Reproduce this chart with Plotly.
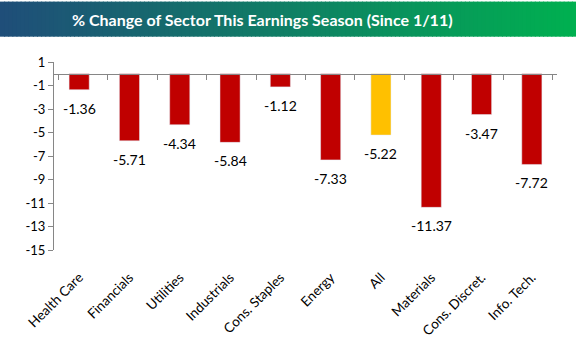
import plotly.graph_objects as go

sectors = ["Health Care", "Financials", "Utilities", "Industrials", "Cons. Staples",
           "Energy", "All", "Materials", "Cons. Discret.", "Info. Tech."]
changes = [-1.36, -5.71, -4.34, -5.84, -1.12, -7.33, -5.22, -11.37, -3.47, -7.72]
title_text = "% Change of Sector This Earnings Season (Since 1/11)"
y_ticks = [1, -1, -3, -5, -7, -9, -11, -13, -15]

RED = "#C00000"
GOLD = "#FFC000"
colors = [GOLD if s == "All" else RED for s in sectors]
FONT = "Lato, 'Open Sans', sans-serif"
AXIS = "#868686"

W, H = 576, 351
ml, mr, mt, mb = 54, 19, 62, 96
pw, ph = W - ml - mr, H - mt - mb

fig = go.Figure()
fig.add_trace(go.Bar(
    x=sectors, y=changes, marker_color=colors, width=0.4,
    hoverinfo="skip", showlegend=False,
))
# helper (invisible) trace so that the zero-line category axis is drawn
fig.add_trace(go.Scatter(
    x=sectors, y=changes, xaxis="x2", mode="markers",
    marker=dict(opacity=0), hoverinfo="skip", showlegend=False,
))

ymin, ymax = -15, 1
zero_pos = (0 - ymin) / (ymax - ymin)

# gradient title bar built from thin strips
c0 = (31, 78, 121)
c1 = (0, 176, 80)
n = 140
bar_top_px, bar_bot_px = 0, 36
x_left = -ml / pw
x_right = (W - ml) / pw
y_top = 1 + (mt - bar_top_px) / ph
y_bot = 1 + (mt - bar_bot_px) / ph
shapes = []
for i in range(n):
    t = i / (n - 1)
    col = tuple(round(c0[k] + (c1[k] - c0[k]) * t) for k in range(3))
    xa = x_left + (x_right - x_left) * i / n
    xb = x_left + (x_right - x_left) * (i + 1) / n + 0.002
    shapes.append(dict(type="rect", xref="paper", yref="paper",
                       x0=xa, x1=xb, y0=y_bot, y1=y_top,
                       fillcolor=f"rgb{col}", line=dict(width=0), layer="below"))

annotations = [dict(text=f"<b>{title_text}</b>", xref="paper", yref="paper",
                    x=(262 - ml) / pw, y=(y_top + y_bot) / 2,
                    xanchor="center", yanchor="middle", showarrow=False,
                    font=dict(family=FONT, size=16, color="white"))]
for s, v in zip(sectors, changes):
    annotations.append(dict(text=f"{v:.2f}", x=s, y=v, xref="x", yref="y",
                            xanchor="center", yanchor="top", yshift=-8,
                            showarrow=False,
                            font=dict(family=FONT, size=14, color="#000000")))

fig.update_layout(
    width=W, height=H,
    margin=dict(l=ml, r=mr, t=mt, b=mb),
    paper_bgcolor="white", plot_bgcolor="white",
    font=dict(family=FONT, color="#000000"),
    shapes=shapes,
    xaxis=dict(type="category", categoryorder="array", categoryarray=sectors,
               showline=False, ticks="", tickangle=-45, showgrid=False,
               tickfont=dict(family=FONT, size=13.5, color="#000000"),
               ticklabelstandoff=16, fixedrange=True),
    xaxis2=dict(type="category", categoryorder="array", categoryarray=sectors,
                overlaying="x", anchor="free", position=zero_pos, side="bottom",
                showline=True, linecolor=AXIS, linewidth=1,
                ticks="outside", tickson="boundaries", ticklen=5, tickcolor=AXIS,
                showticklabels=False, showgrid=False, fixedrange=True),
    yaxis=dict(range=[ymin, ymax], tickvals=y_ticks, ticktext=[str(v) for v in y_ticks],
               showline=True, linecolor=AXIS, linewidth=1,
               ticks="outside", ticklen=5, tickcolor=AXIS,
               showgrid=False, zeroline=False,
               tickfont=dict(family=FONT, size=13, color="#000000"), fixedrange=True),
    annotations=annotations,
)

fig.write_html("out.html")
